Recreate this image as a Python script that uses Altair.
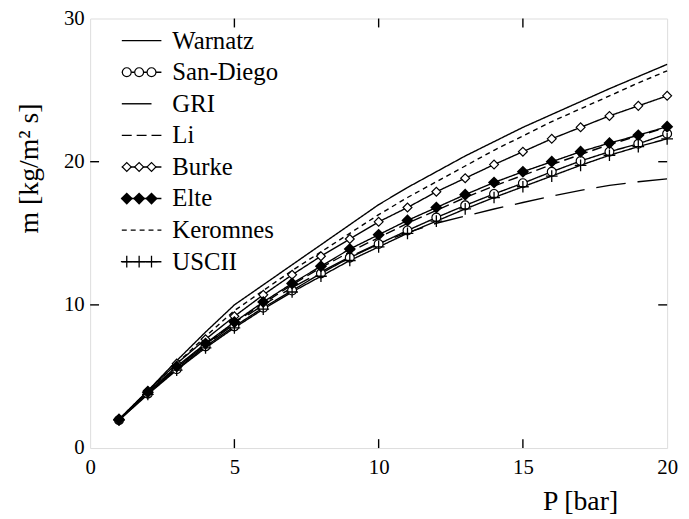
import altair as alt
import pandas as pd

# ---- data ----
P = list(range(1, 21))
warnatz = [2.0, 4.0, 6.1, 8.1, 10.0, 11.4, 12.8, 14.2, 15.6, 17.0, 18.2, 19.3, 20.4, 21.4, 22.4, 23.3, 24.2, 25.1, 25.95, 26.8]
san_diego = [1.95, 3.8, 5.5, 7.1, 8.5, 9.8, 11.0, 12.2, 13.3, 14.25, 15.2, 16.1, 16.95, 17.75, 18.5, 19.3, 20.05, 20.7, 21.25, 21.95]
gri = [2.0, 3.85, 5.6, 7.2, 8.65, 10.0, 11.2, 12.3, 13.35, 14.3, 15.05, 15.7, 16.2, 16.7, 17.15, 17.6, 18.0, 18.35, 18.6, 18.8]
li = [2.0, 3.9, 5.65, 7.25, 8.75, 10.1, 11.4, 12.6, 13.7, 14.7, 15.7, 16.6, 17.5, 18.3, 19.05, 19.8, 20.5, 21.2, 21.8, 22.4]
burke = [2.0, 4.0, 5.9, 7.6, 9.2, 10.7, 12.1, 13.4, 14.6, 15.8, 16.8, 17.9, 18.85, 19.8, 20.7, 21.6, 22.4, 23.2, 23.9, 24.6]
elte = [2.0, 3.9, 5.7, 7.3, 8.8, 10.2, 11.5, 12.7, 13.9, 14.9, 15.9, 16.8, 17.7, 18.55, 19.3, 20.0, 20.7, 21.3, 21.85, 22.45]
keromnes = [2.0, 3.95, 5.9, 7.8, 9.6, 11.0, 12.4, 13.7, 15.0, 16.3, 17.5, 18.6, 19.7, 20.8, 21.8, 22.8, 23.7, 24.6, 25.5, 26.35]
uscii = [1.95, 3.75, 5.45, 7.0, 8.4, 9.7, 10.9, 12.0, 13.1, 14.05, 15.0, 15.85, 16.7, 17.5, 18.25, 19.0, 19.75, 20.45, 21.05, 21.6]

series_names = ["Warnatz", "San-Diego", "GRI", "Li", "Burke", "Elte", "Keromnes", "USCII"]
series_values = [warnatz, san_diego, gri, li, burke, elte, keromnes, uscii]
dashes = [[1, 0], [1, 0], [30, 12], [10, 5], [1, 0], [1, 0], [5, 4], [1, 0]]

x_ticks = [0, 5, 10, 15, 20]
y_ticks = [0, 10, 20, 30]

rows = []
for s, vals in zip(series_names, series_values):
    for p, m in zip(P, vals):
        rows.append({"series": s, "P": p, "m": m})
df = pd.DataFrame(rows)

leg_df = pd.DataFrame({"series": series_names, "row": list(range(len(series_names)))})
marker_series = ["San-Diego", "Burke", "Elte", "USCII"]
leg_mk = pd.DataFrame([
    {"series": s, "row": series_names.index(s), "pos": k}
    for s in marker_series for k in range(3)
])

W, H = 583, 434
FONT = "Liberation Serif"
PLUS = "M-1,0L1,0M0,-1L0,1"

xs = alt.Scale(domain=[0, 20], nice=False, zero=False)
ys = alt.Scale(domain=[0, 30], nice=False)
dash_scale = alt.Scale(domain=series_names, range=dashes)
shape_scale = alt.Scale(domain=["San-Diego", "Burke"], range=["circle", "diamond"])

x_axis = alt.Axis(values=x_ticks, ticks=False, grid=False, domain=False, labelFlush=False,
                  labelFont=FONT, labelFontSize=21, labelColor="black", labelPadding=9,
                  title="P [bar]", titleFont=FONT, titleFontSize=28, titleFontWeight="normal",
                  titleColor="black", titleX=495, titleY=62, titleAlign="center",
                  titleBaseline="alphabetic")
y_axis = alt.Axis(values=y_ticks, ticks=False, grid=False, domain=False, labelFlush=False,
                  labelFont=FONT, labelFontSize=21, labelColor="black", labelPadding=6,
                  title="m [kg/m² s]", titleFont=FONT, titleFontSize=28, titleFontWeight="normal",
                  titleColor="black", titleX=-61, titleY=151, titleAlign="center",
                  titleBaseline="middle")

X = alt.X("P:Q", scale=xs)
Y = alt.Y("m:Q", scale=ys)

base = alt.Chart(df)
lines = base.mark_line(color="black", strokeWidth=1.4).encode(
    x=alt.X("P:Q", scale=xs, axis=x_axis),
    y=alt.Y("m:Q", scale=ys, axis=y_axis),
    strokeDash=alt.StrokeDash("series:N", scale=dash_scale, legend=None),
    detail="series:N",
)
open_pts = base.transform_filter(
    alt.FieldOneOfPredicate(field="series", oneOf=["San-Diego", "Burke"])
).mark_point(filled=True, fill="white", stroke="black", strokeWidth=1.2, size=80, opacity=1).encode(
    x=X, y=Y,
    shape=alt.Shape("series:N", scale=shape_scale, legend=None),
)
elte_pts = base.transform_filter(alt.datum.series == "Elte").mark_point(
    filled=True, fill="black", stroke="black", shape="diamond", size=90, opacity=1
).encode(x=X, y=Y)
uscii_pts = base.transform_filter(alt.datum.series == "USCII").mark_point(
    filled=False, stroke="black", shape=PLUS, size=140, strokeWidth=1.3, opacity=1
).encode(x=X, y=Y)

xt_df = pd.DataFrame({"P": x_ticks[1:-1]})
yt_df = pd.DataFrame({"m": y_ticks[1:-1]})
tick_x_bot = alt.Chart(xt_df).mark_rule(color="black", strokeWidth=1.4).encode(
    x=X, y=alt.value(H), y2=alt.value(H - 9))
tick_x_top = alt.Chart(xt_df).mark_rule(color="black", strokeWidth=1.4).encode(
    x=X, y=alt.value(0), y2=alt.value(9))
tick_y_left = alt.Chart(yt_df).mark_rule(color="black", strokeWidth=1.4).encode(
    y=Y, x=alt.value(0), x2=alt.value(9))
tick_y_right = alt.Chart(yt_df).mark_rule(color="black", strokeWidth=1.4).encode(
    y=Y, x=alt.value(W), x2=alt.value(W - 9))

main = alt.layer(lines, open_pts, elte_pts, uscii_pts,
                 tick_x_bot, tick_x_top, tick_y_left, tick_y_right)

# ---- legend (inside plot, top-left) ----
row_scale = alt.Scale(domain=[0, 7], range=[22.3, 245.7])
pos_scale = alt.Scale(domain=[0, 2], range=[37, 62])
leg_lines = alt.Chart(leg_df).mark_rule(color="black", strokeWidth=1.4).encode(
    y=alt.Y("row:Q", scale=row_scale, axis=None),
    x=alt.value(32), x2=alt.value(72),
    strokeDash=alt.StrokeDash("series:N", scale=dash_scale, legend=None),
)
leg_text = alt.Chart(leg_df).mark_text(
    align="left", baseline="middle", font=FONT, fontSize=25, color="black"
).encode(y=alt.Y("row:Q", scale=row_scale, axis=None), x=alt.value(83), text="series:N")
leg_open = alt.Chart(leg_mk).transform_filter(
    alt.FieldOneOfPredicate(field="series", oneOf=["San-Diego", "Burke"])
).mark_point(filled=True, fill="white", stroke="black", strokeWidth=1.2, size=80, opacity=1).encode(
    x=alt.X("pos:Q", scale=pos_scale, axis=None),
    y=alt.Y("row:Q", scale=row_scale, axis=None),
    shape=alt.Shape("series:N", scale=shape_scale, legend=None),
)
leg_elte = alt.Chart(leg_mk).transform_filter(alt.datum.series == "Elte").mark_point(
    filled=True, fill="black", stroke="black", shape="diamond", size=90, opacity=1
).encode(x=alt.X("pos:Q", scale=pos_scale, axis=None), y=alt.Y("row:Q", scale=row_scale, axis=None))
leg_uscii = alt.Chart(leg_mk).transform_filter(alt.datum.series == "USCII").mark_point(
    filled=False, stroke="black", shape=PLUS, size=140, strokeWidth=1.3, opacity=1
).encode(x=alt.X("pos:Q", scale=pos_scale, axis=None), y=alt.Y("row:Q", scale=row_scale, axis=None))

legend = alt.layer(leg_lines, leg_open, leg_elte, leg_uscii, leg_text)

chart = alt.layer(main, legend).resolve_scale(x="independent", y="independent").properties(
    width=W, height=H,
    autosize=alt.AutoSizeParams(type="none"),
    padding={"left": 83, "top": 8, "right": 14, "bottom": 66},
).configure_view(stroke="black", strokeWidth=1.8).configure(background="white")

chart.save("out.html", embed_options={"renderer": "svg", "actions": False})
